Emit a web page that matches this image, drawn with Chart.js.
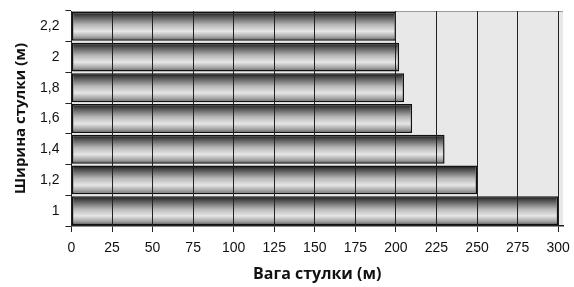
<!DOCTYPE html>
<html>
<head>
<meta charset="utf-8">
<script src="https://cdn.jsdelivr.net/npm/chart.js@4/dist/chart.umd.min.js"></script>
<style>
  html, body { margin: 0; padding: 0; background: #fff; }
  #wrap { width: 574px; height: 287px; }
</style>
</head>
<body>
<div id="wrap"><canvas id="myChart"></canvas></div>
<script>
// widths listed top to bottom, as they show on the chart
const widths = ['2,2', '2', '1,8', '1,6', '1,4', '1,2', '1'];
const weights = [200, 202, 205, 210, 230, 250, 300];
const xTicks = [0, 25, 50, 75, 100, 125, 150, 175, 200, 225, 250, 275, 300];

const BAR_PCT = 0.94;

function barGradient(context) {
    const chart = context.chart;
    const yScale = chart.scales.y;
    if (!yScale || context.dataIndex === undefined) return '#bbb';
    const center = yScale.getPixelForValue(context.dataIndex);
    const half = (yScale.height / widths.length) * BAR_PCT / 2;
    if (!isFinite(center) || !isFinite(half) || half <= 0) return '#bbb';
    const g = chart.ctx.createLinearGradient(0, center - half, 0, center + half);
    g.addColorStop(0, '#111');
    g.addColorStop(0.12, '#444');
    g.addColorStop(0.45, '#b8b8b8');
    g.addColorStop(0.68, '#e6e6e6');
    g.addColorStop(0.88, '#a0a0a0');
    g.addColorStop(1, '#555');
    return g;
}

const plotBg = {
    id: 'plotBg',
    beforeDraw(chart) {
        const {ctx, chartArea} = chart;
        ctx.save();
        ctx.fillStyle = '#e8e8e8';
        ctx.fillRect(chartArea.left, chartArea.top, chartArea.right - chartArea.left, chartArea.bottom - chartArea.top);
        ctx.strokeStyle = '#999';
        ctx.lineWidth = 1;
        ctx.beginPath();
        ctx.moveTo(chartArea.left, chartArea.top + 0.5);
        ctx.lineTo(chartArea.right, chartArea.top + 0.5);
        ctx.stroke();
        ctx.restore();
    }
};

const ctx = document.getElementById('myChart').getContext('2d');
const myChart = new Chart(ctx, {
    type: 'bar',
    data: {
        labels: widths,
        datasets: [{
            data: weights,
            backgroundColor: barGradient,
            borderColor: '#111',
            borderWidth: 1.5,
            borderSkipped: false,
            barPercentage: BAR_PCT,
            categoryPercentage: 1
        }]
    },
    plugins: [plotBg],
    options: {
        indexAxis: 'y',
        responsive: true,
        maintainAspectRatio: false,
        animation: false,
        layout: { padding: { top: 11, right: 11, left: 12, bottom: 3 } },
        plugins: {
            legend: { display: false },
            tooltip: { enabled: false }
        },
        scales: {
            x: {
                min: 0,
                max: 303,
                afterBuildTicks: axis => {
                    axis.ticks = xTicks.map(v => ({ value: v }));
                },
                afterFit: axis => {
                    axis.paddingLeft = 0;
                    axis.paddingRight = 0;
                },
                grid: {
                    z: 1,
                    color: '#222',
                    lineWidth: 1,
                    tickLength: 6,
                    drawTicks: true
                },
                border: { color: '#222', width: 1.5, z: 1 },
                ticks: {
                    color: '#111',
                    font: { family: 'Liberation Sans', size: 14 },
                    maxRotation: 0,
                    padding: 8
                },
                title: {
                    display: true,
                    text: 'Вага стулки (м)',
                    color: '#111',
                    font: { family: 'Open Sans', size: 16, weight: 'bold' },
                    padding: { top: 0, bottom: 0 }
                }
            },
            y: {
                afterFit: axis => {
                    axis.paddingTop = 0;
                    axis.paddingBottom = 0;
                },
                grid: {
                    offset: true,
                    drawOnChartArea: false,
                    color: '#222',
                    tickLength: 6
                },
                border: { display: false },
                ticks: {
                    color: '#111',
                    font: { family: 'Liberation Sans', size: 14 },
                    padding: 6
                },
                title: {
                    display: true,
                    text: 'Ширина стулки (м)',
                    color: '#111',
                    font: { family: 'Open Sans', size: 15, weight: 'bold' },
                    padding: { top: 0, bottom: 4 }
                }
            }
        }
    }
});
</script>
</body>
</html>
